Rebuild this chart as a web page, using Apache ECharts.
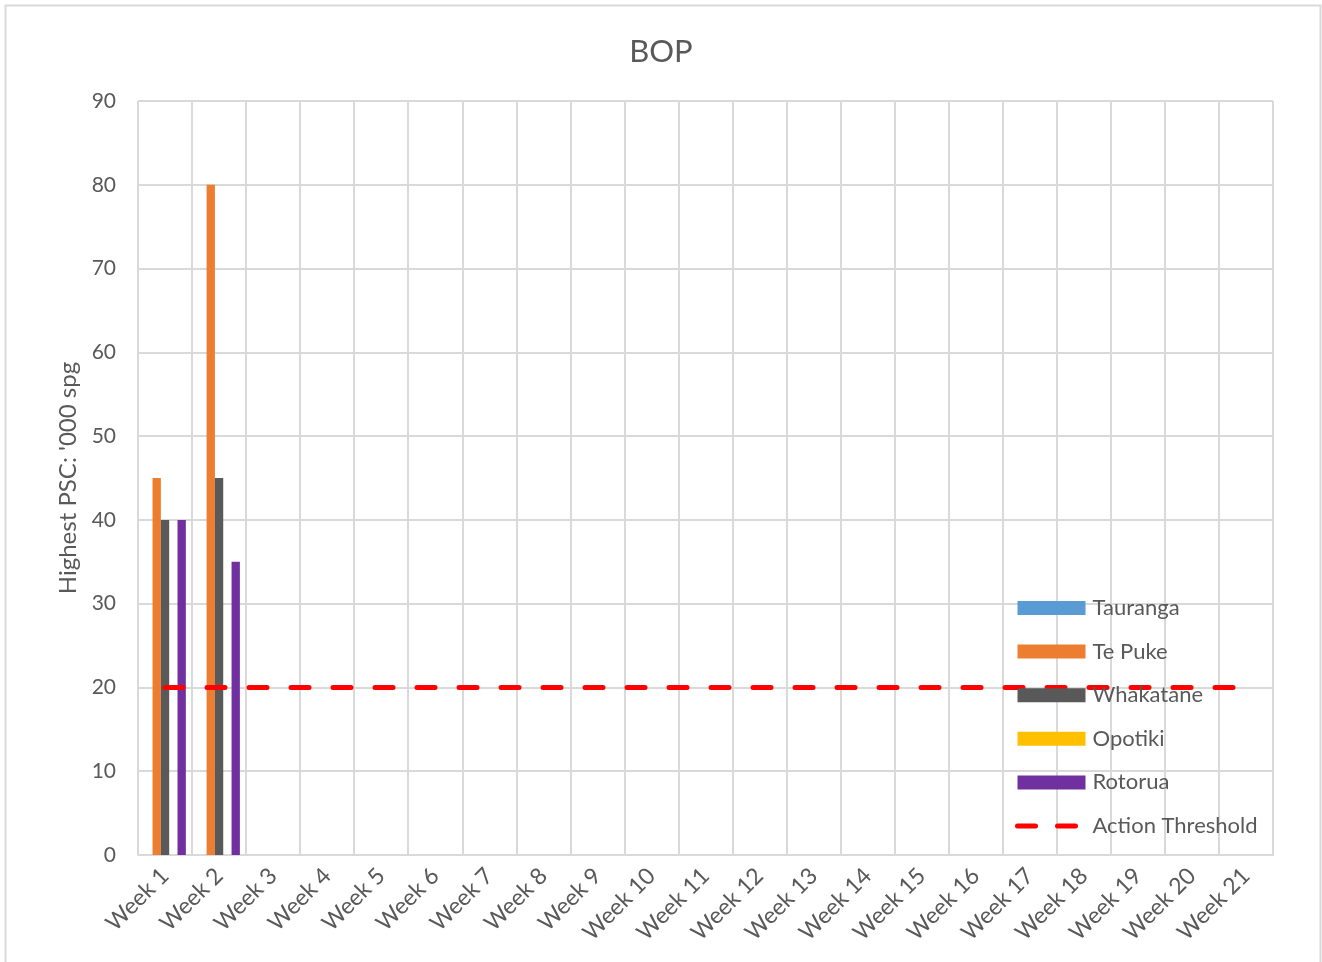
<!DOCTYPE html>
<html>
<head>
<meta charset="utf-8">
<script src="https://cdn.jsdelivr.net/npm/echarts@6/dist/echarts.min.js"></script>
<style>
html,body{margin:0;padding:0;background:#fff;}
#chart{width:1322px;height:962px;}
</style>
</head>
<body>
<div id="chart"></div>
<script>
const weeks = ['Week 1','Week 2','Week 3','Week 4','Week 5','Week 6','Week 7','Week 8','Week 9','Week 10','Week 11','Week 12','Week 13','Week 14','Week 15','Week 16','Week 17','Week 18','Week 19','Week 20','Week 21'];
const tauranga = [null,null,null,null,null,null,null,null,null,null,null,null,null,null,null,null,null,null,null,null,null];
const tePuke = [45,80,null,null,null,null,null,null,null,null,null,null,null,null,null,null,null,null,null,null,null];
const whakatane = [40,45,null,null,null,null,null,null,null,null,null,null,null,null,null,null,null,null,null,null,null];
const opotiki = [null,null,null,null,null,null,null,null,null,null,null,null,null,null,null,null,null,null,null,null,null];
const rotorua = [40,35,null,null,null,null,null,null,null,null,null,null,null,null,null,null,null,null,null,null,null];
const actionThreshold = [20,20,20,20,20,20,20,20,20,20,20,20,20,20,20,20,20,20,20,20,20];
const yTicks = [0,10,20,30,40,50,60,70,80,90];

const FONT = 'Lato, "Open Sans", sans-serif';
const TXT = '#595959';
const GRIDC = '#d9d9d9';

const chart = echarts.init(document.getElementById('chart'));
function bar(name, data, color){
  return {name, type:'bar', data, barGap:'0%', barCategoryGap:'23%', itemStyle:{color}, z:2};
}
chart.setOption({
  animation:false,
  textStyle:{fontFamily:FONT},
  graphic:[{type:'rect', shape:{x:5.5,y:5.5,width:1315,height:980}, style:{fill:'none', stroke:GRIDC, lineWidth:2}, silent:true}],
  title:{text:'BOP', left:'center', top:31, textStyle:{fontFamily:FONT, fontSize:31, fontWeight:'normal', color:TXT}},
  grid:{left:138, right:49, top:101, bottom:107, containLabel:false},
  legend:{
    orient:'vertical', left:1010, top:592, itemWidth:68, itemHeight:14, itemGap:21.6,
    textStyle:{fontFamily:FONT, fontSize:22, color:TXT, padding:[0,0,0,2]},
    data:[
      {name:'Tauranga', icon:'rect'},
      {name:'Te Puke', icon:'rect'},
      {name:'Whakatane', icon:'rect'},
      {name:'Opotiki', icon:'rect'},
      {name:'Rotorua', icon:'rect'},
      {name:'Action Threshold', itemStyle:{opacity:0}, lineStyle:{color:'#FF0000', width:5, type:[18,22], cap:'round'}}
    ]
  },
  xAxis:{
    type:'category', data:weeks, boundaryGap:true,
    axisLine:{show:true, lineStyle:{color:GRIDC, width:2}},
    axisTick:{show:false},
    splitLine:{show:true, lineStyle:{color:GRIDC, width:2}},
    axisLabel:{rotate:45, interval:0, fontFamily:FONT, fontSize:23, color:TXT, margin:17}
  },
  yAxis:{
    type:'value', min:yTicks[0], max:yTicks[yTicks.length-1], interval:10,
    name:"Highest PSC: '000 spg", nameLocation:'middle', nameGap:57,
    nameTextStyle:{fontFamily:FONT, fontSize:24, color:TXT},
    axisLine:{show:false}, axisTick:{show:false},
    splitLine:{show:true, lineStyle:{color:GRIDC, width:2}},
    axisLabel:{fontFamily:FONT, fontSize:21, color:TXT, margin:22}
  },
  series:[
    bar('Tauranga', tauranga, '#5B9BD5'),
    bar('Te Puke', tePuke, '#ED7D31'),
    bar('Whakatane', whakatane, '#595959'),
    bar('Opotiki', opotiki, '#FFC000'),
    bar('Rotorua', rotorua, '#7030A0'),
    {name:'Action Threshold', type:'line', data:actionThreshold, symbol:'none', z:3,
     lineStyle:{color:'#FF0000', width:5, type:[18,24], cap:'round'}, itemStyle:{color:'#FF0000'}}
  ]
});
</script>
</body>
</html>
